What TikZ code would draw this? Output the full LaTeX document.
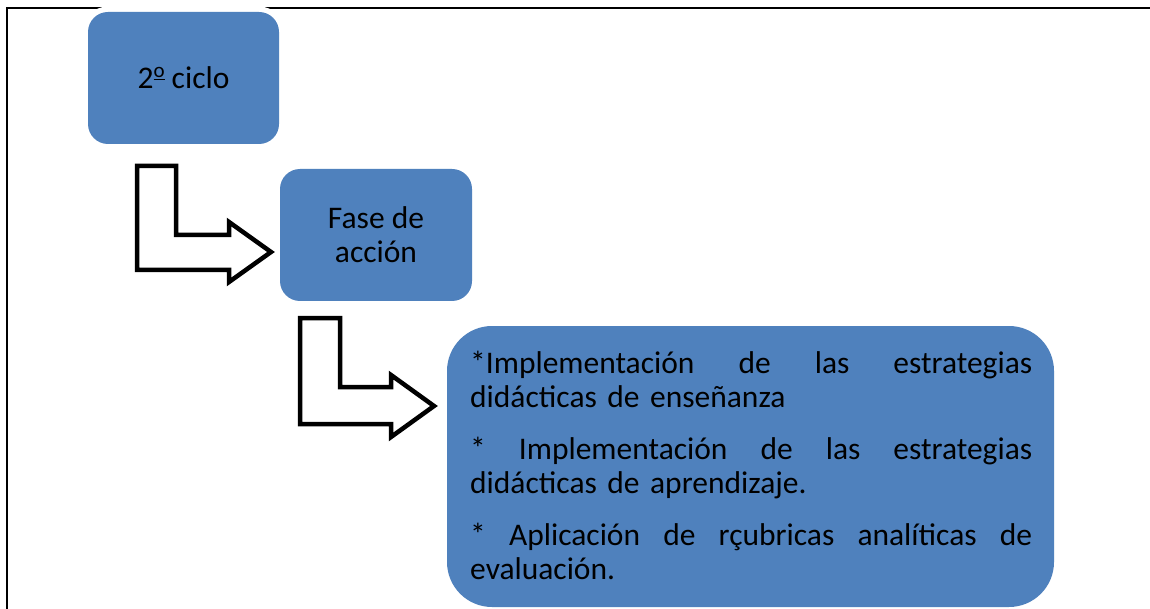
\documentclass[tikz,border=0pt]{standalone}
\usepackage{fontspec}
\setmainfont{Carlito}
\definecolor{boxblue}{HTML}{4F81BD}
\begin{document}
\begin{tikzpicture}[x=1pt,y=-1pt,
  bluebox/.style={fill=boxblue,preaction={draw=white,line width=11pt},inner sep=0pt,outer sep=0pt},
  boxtext/.style={font=\fontsize{31.5}{34}\selectfont,inner sep=0pt,align=center},
  bentarrow/.style={draw=black,line width=4.5pt,fill=white,line join=miter}]
\useasboundingbox (0,0) rectangle (1150,609);
% frame
\coordinate (fbl) at (7,609);
\coordinate (ftl) at (7,8);
\coordinate (ftr) at (1150,8);
\draw[line width=2.5pt] (fbl) -- (ftl) -- (ftr);
% boxes
\node[bluebox,rounded corners=20pt,minimum width=191pt,minimum height=132pt] (b1) at (183.5,78) {};
\node[bluebox,rounded corners=20pt,minimum width=192pt,minimum height=132pt] (b2) at (376,235) {};
\node[bluebox,rounded corners=45pt,minimum width=607pt,minimum height=281pt] (b3) at (750.5,466.5) {};
% texts
\node[boxtext] (t1) at (b1.center) {2\raisebox{0.36em}{\fontsize{21}{21}\selectfont\underline{o}}\ ciclo};
\node[boxtext] (t2) at (b2.center) {Fase de\\acción};
\node[boxtext,align=left,text width=562pt,anchor=north west] (t3) at (470,351) {%
\makebox[562pt][l]{*Implementación\hfill de\hfill las\hfill estrategias}\\
didácticas de enseñanza\\[18pt]
\makebox[562pt][l]{*\hfill Implementación\hfill de\hfill las\hfill estrategias}\\
didácticas de aprendizaje.\\[18pt]
\makebox[562pt][l]{*\hfill Aplicación\hfill de\hfill rçubricas\hfill analíticas\hfill de}\\
evaluación.};
% bent arrows
\draw[bentarrow] (137,166) -- (176,166) -- (176,235) -- (229,235) -- (229,222) -- (271,252) -- (229,282) -- (229,270) -- (137,270) -- cycle;
\draw[bentarrow] (300,318) -- (340,318) -- (340,387) -- (391,387) -- (391,375) -- (434,406) -- (391,437) -- (391,424) -- (300,424) -- cycle;
\end{tikzpicture}
\end{document}
